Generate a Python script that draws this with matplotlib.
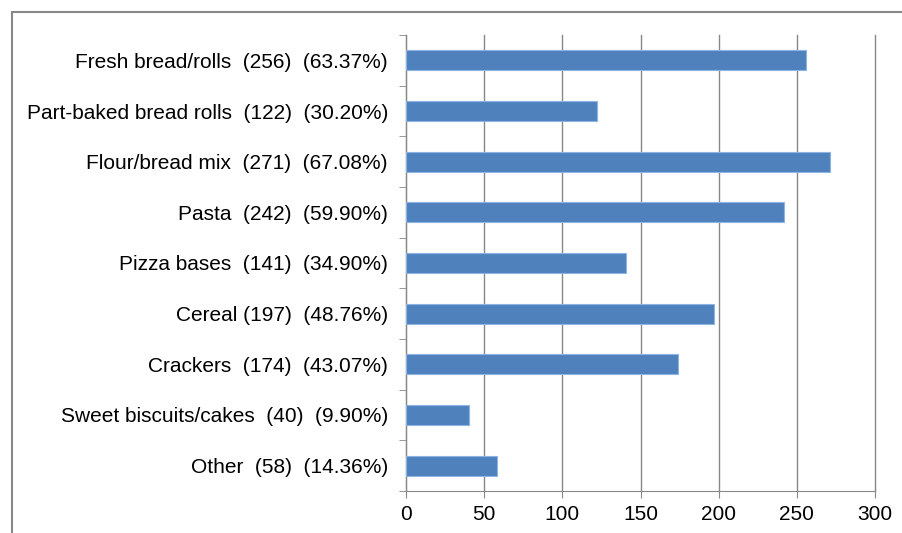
import numpy as np
import matplotlib.pyplot as plt
from matplotlib.patches import Rectangle

plt.rcParams['font.family'] = ['Liberation Sans', 'DejaVu Sans']

categories = ['Fresh bread/rolls', 'Part-baked bread rolls', 'Flour/bread mix', 'Pasta',
              'Pizza bases', 'Cereal', 'Crackers', 'Sweet biscuits/cakes', 'Other']
counts = [256, 122, 271, 242, 141, 197, 174, 40, 58]
percents = ['63.37%', '30.20%', '67.08%', '59.90%', '34.90%', '48.76%', '43.07%', '9.90%', '14.36%']
gaps = ['  ', '  ', '  ', '  ', '  ', ' ', '  ', '  ', '  ']
x_ticks = [0, 50, 100, 150, 200, 250, 300]

labels = [f"{c}{g}({n})  ({p})" for c, g, n, p in zip(categories, gaps, counts, percents)]

fig = plt.figure(figsize=(9.03, 5.33), dpi=100)
# outer chart border (only left and top visible in the crop)
fig.patches.append(Rectangle((12 / 903, -0.5), 2, 1 - 12 / 533 + 0.5, transform=fig.transFigure,
                             fill=False, edgecolor='#888888', linewidth=1.5))

ax = fig.add_axes([406 / 903, 1 - 491 / 533, 469 / 903, 456 / 533])
y = np.arange(len(categories))
ax.barh(y, counts, height=0.4, color='#4F81BD', edgecolor='#8EB4E3', linewidth=0.8, zorder=3)

ax.set_xlim(0, 300)
ax.set_ylim(len(categories) - 0.5, -0.5)
ax.set_xticks(x_ticks)
ax.set_xticklabels([str(t) for t in x_ticks], fontsize=15)
ax.set_yticks(y)
ax.set_yticklabels(labels, fontsize=15)
ax.set_yticks(np.arange(len(categories) + 1) - 0.5, minor=True)

ax.tick_params(axis='y', which='major', length=0, pad=13)
ax.tick_params(axis='y', which='minor', length=5, color='#888888', direction='out')
ax.tick_params(axis='x', length=5, color='#888888', direction='out', pad=5)

ax.grid(axis='x', color='#888888', linewidth=1, zorder=0)
for line in ax.get_xgridlines():
    line.set_clip_on(False)
for s in ['top', 'right']:
    ax.spines[s].set_visible(False)
for s in ['left', 'bottom']:
    ax.spines[s].set_color('#888888')

fig.savefig('out.png', dpi=100)
